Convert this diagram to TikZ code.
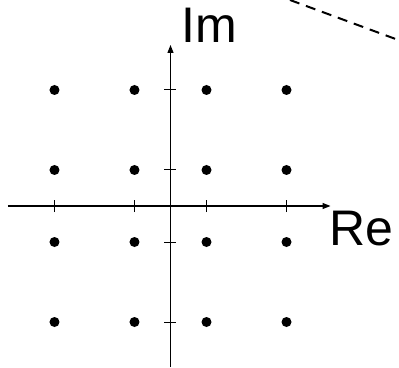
\documentclass[tikz,border=0pt]{standalone}
\usepackage{fontspec}
\setmainfont{Liberation Sans}
\usetikzlibrary{arrows.meta, positioning}
\tikzset{axis/.style={line width=1.3pt,-{Triangle[length=8pt,width=6pt]}},tick/.style={line width=1pt},dot/.style={circle,fill,inner sep=0pt,minimum size=10pt},lbl/.style={inner sep=0pt,font=\fontsize{50}{50}\selectfont},guide/.style={line width=2pt,dash pattern=on 10pt off 7pt}}

\begin{document}
\begin{tikzpicture}[x=1pt,y=1pt]
\useasboundingbox (-170.5,-161) rectangle (228.5,206);
\coordinate (o) at (0,0);
\coordinate (xl) at (-162.5,0);
\coordinate (xr) at (160,0);
\coordinate (yb) at (0,-161);
\coordinate (yt) at (0,161);
\draw[axis] (xl) -- (xr);
\draw[axis] (yb) -- (yt);
\foreach \t in {-116,-36,36,116} {
  \draw[tick] (\t,-6) -- (\t,6);
  \draw[tick] (-6,\t) -- (6,\t);
}
\foreach \i in {-116,-36,36,116}
  \foreach \j in {-116,-36,36,116}
    \node[dot] (p\i\j) at (\i,\j) {};
\node[lbl, anchor=base west] (im) at (11,163) {Im};
\node[lbl, anchor=base west] (re) at (159,-39) {Re};
\begin{scope}
\clip (-170.5,-161) rectangle (228.5,206);
\coordinate (g1) at (119.5,206);
\coordinate (g2) at (240,161.5);
\draw[guide] (g1) -- (g2);
\end{scope}
\end{tikzpicture}
\end{document}
